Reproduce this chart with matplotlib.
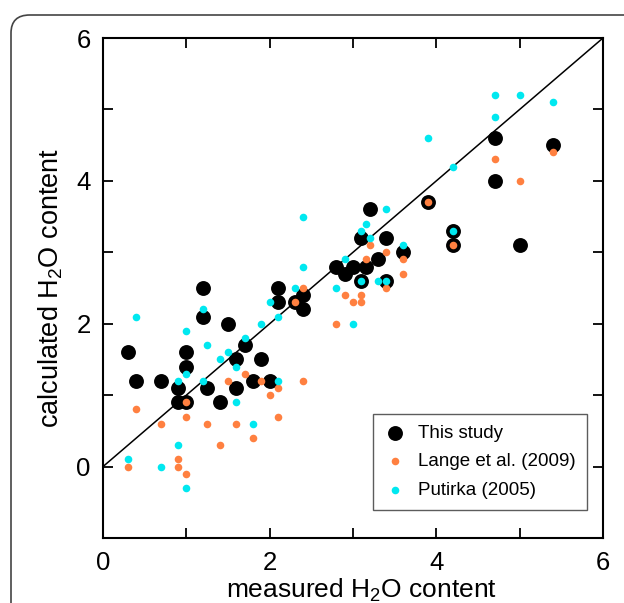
import matplotlib
matplotlib.use("Agg")
import matplotlib.pyplot as plt
from matplotlib.patches import FancyBboxPatch

plt.rcParams['font.family'] = ['Liberation Sans', 'DejaVu Sans']
plt.rcParams['mathtext.default'] = 'regular'

# This study
study_x = [0.3, 0.4, 0.7, 0.9, 0.9, 1.0, 1.0, 1.0, 1.2, 1.2, 1.5, 1.25, 1.4, 1.6, 1.6, 1.7,
           1.8, 1.9, 2.0, 2.1, 2.1, 2.3, 2.4, 2.4, 2.8, 2.9, 3.0, 3.1, 3.15, 3.2, 3.3, 3.4,
           3.6, 3.1, 3.4, 3.9, 4.2, 4.2, 4.7, 4.7, 5.0, 5.4]
study_y = [1.6, 1.2, 1.2, 1.1, 0.9, 0.9, 1.4, 1.6, 2.5, 2.1, 2.0, 1.1, 0.9, 1.1, 1.5, 1.7,
           1.2, 1.5, 1.2, 2.5, 2.3, 2.3, 2.2, 2.4, 2.8, 2.7, 2.8, 3.2, 2.8, 3.6, 2.9, 3.2,
           3.0, 2.6, 2.6, 3.7, 3.3, 3.1, 4.6, 4.0, 3.1, 4.5]

# Lange et al. (2009)
lange_x = [0.3, 0.4, 0.7, 0.9, 0.9, 1.0, 1.0, 1.0, 1.25, 1.4, 1.5, 1.6, 1.7, 1.8, 1.9, 2.0,
           2.1, 2.1, 2.3, 2.4, 2.4, 2.8, 2.9, 3.0, 3.1, 3.1, 3.15, 3.2, 3.4, 3.4, 3.6, 3.6,
           3.9, 4.2, 4.7, 5.0, 5.4]
lange_y = [0.0, 0.8, 0.6, 0.1, 0.0, -0.1, 0.9, 0.7, 0.6, 0.3, 1.2, 0.6, 1.3, 0.4, 1.2, 1.0,
           1.1, 0.7, 2.3, 2.5, 1.2, 2.0, 2.4, 2.3, 2.4, 2.3, 2.9, 3.1, 3.0, 2.5, 2.9, 2.7,
           3.7, 3.1, 4.3, 4.0, 4.4]

# Putirka (2005)
put_x = [0.3, 0.4, 0.7, 0.9, 0.9, 1.0, 1.0, 1.0, 1.2, 1.2, 1.25, 1.4, 1.5, 1.6, 1.6, 1.7,
         1.8, 1.9, 2.0, 2.1, 2.1, 2.3, 2.4, 2.4, 2.8, 2.9, 3.0, 3.1, 3.15, 3.2, 3.3, 3.1,
         3.4, 3.4, 3.6, 3.9, 4.2, 4.2, 4.7, 4.7, 5.0, 5.4]
put_y = [0.1, 2.1, 0.0, 1.2, 0.3, 1.9, 1.3, -0.3, 2.2, 1.2, 1.7, 1.5, 1.6, 1.4, 0.9, 1.8,
         0.6, 2.0, 2.3, 2.1, 1.2, 2.5, 3.5, 2.8, 2.5, 2.9, 2.0, 3.3, 3.4, 3.2, 2.6, 2.6,
         3.6, 2.6, 3.1, 4.6, 4.2, 3.3, 5.2, 4.9, 5.2, 5.1]

labels = ['This study', 'Lange et al. (2009)', 'Putirka (2005)']
ticks = [0, 2, 4, 6]

fig = plt.figure(figsize=(6.24, 6.03), dpi=100)
border = FancyBboxPatch((11 / 624, -0.2), 1.2, 1.2 - 15 / 603,
                        boxstyle="round,pad=0,rounding_size=0.03",
                        transform=fig.transFigure, facecolor='none',
                        edgecolor='#444444', linewidth=1.2, clip_on=False)
fig.patches.append(border)

ax = fig.add_axes([103 / 624, 1 - 538 / 603, 500 / 624, 500 / 603])
ax.plot([0, 6], [0, 6], color='black', linewidth=1.1, zorder=1)
ax.scatter(study_x, study_y, s=115, color='black', zorder=2, label=labels[0], linewidths=0)
ax.scatter(lange_x, lange_y, s=30, color='#ff8040', zorder=3, label=labels[1], linewidths=0)
ax.scatter(put_x, put_y, s=30, color='#00e8f0', zorder=4, label=labels[2], linewidths=0)

ax.set_xlim(0, 6)
ax.set_ylim(-1, 6)
ax.set_xticks(range(0, 7))
ax.set_xticklabels([str(t) if t in ticks else '' for t in range(0, 7)])
ax.set_yticks(range(-1, 7))
ax.set_yticklabels([str(t) if t in ticks else '' for t in range(-1, 7)])
ax.tick_params(direction='in', length=7, width=1.3, top=True, right=True,
               labelsize=18.5, pad=9)
for sp in ax.spines.values():
    sp.set_linewidth(1.5)

ax.set_xlabel('measured H$_2$O content', fontsize=19, labelpad=0)
ax.xaxis.set_label_coords(0.518, -0.077)
ax.set_ylabel('calculated H$_2$O content', fontsize=19.5, labelpad=8)

leg = ax.legend(loc='lower right', bbox_to_anchor=(0.968, 0.056), fontsize=13.5,
                frameon=True, fancybox=False, edgecolor='#333333',
                handletextpad=0.7, borderpad=0.6, labelspacing=0.6,
                handlelength=1.1, scatterpoints=1, borderaxespad=0)
leg.get_frame().set_linewidth(1.0)

fig.savefig('out.png', dpi=100)
